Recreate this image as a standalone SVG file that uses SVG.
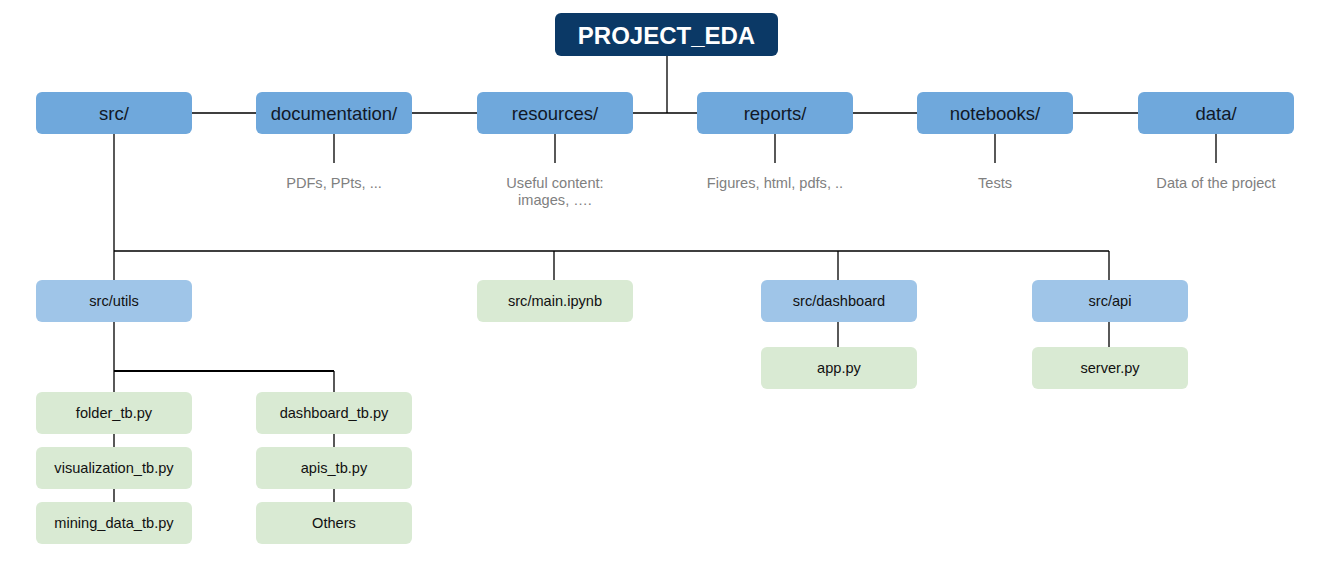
<svg xmlns="http://www.w3.org/2000/svg" width="1330" height="587" viewBox="0 0 1330 587">
<style>
.bg{fill:#ffffff}
.root{fill:#0b3966}
.main{fill:#6fa8dc}
.sub{fill:#9fc5e8}
.leaf{fill:#d9ead3}
.t{font-family:"Liberation Sans",Arial,sans-serif;text-anchor:middle;dominant-baseline:central}
.rt{font-size:24px;font-weight:bold;fill:#ffffff}
.mt{font-size:18.5px;fill:#111827}
.st{font-size:14.6px;fill:#111}
.dt{font-size:14.6px;fill:#808080}
.ln{stroke:#000;stroke-width:1.3;fill:none}
</style>
<rect class="bg" x="0" y="0" width="1330" height="587"/>
<g id="connectors">
<path class="ln" d="M667 56V113M192 113H1138"/>
<path class="ln" d="M334 134V163M555 134V163M775 134V163M995 134V163M1216 134V163"/>
<path class="ln" d="M114 134V280M114 251H1109M554 251V280M838 251V280M1109 251V280"/>
<path class="ln" d="M838 322V347M1109 322V347"/>
<path class="ln" d="M114 322V392M334 371V392"/>
<path class="ln" style="stroke-width:2" d="M114 371H334"/>
<path class="ln" d="M114 434V447M114 489V502M334 434V447M334 489V502"/>
</g>
<g id="root"><rect class="root" x="555" y="13" width="223" height="43" rx="6"/><text class="t rt" x="666.5" y="35">PROJECT_EDA</text></g>
<g id="src"><rect class="main" x="36" y="92" width="156" height="42" rx="6"/><text class="t mt" x="114" y="113">src/</text></g>
<g id="documentation"><rect class="main" x="256" y="92" width="156" height="42" rx="6"/><text class="t mt" x="334" y="113">documentation/</text></g>
<g id="resources"><rect class="main" x="477" y="92" width="156" height="42" rx="6"/><text class="t mt" x="555" y="113">resources/</text></g>
<g id="reports"><rect class="main" x="697" y="92" width="156" height="42" rx="6"/><text class="t mt" x="775" y="113">reports/</text></g>
<g id="notebooks"><rect class="main" x="917" y="92" width="156" height="42" rx="6"/><text class="t mt" x="995" y="113">notebooks/</text></g>
<g id="data"><rect class="main" x="1138" y="92" width="156" height="42" rx="6"/><text class="t mt" x="1216" y="113">data/</text></g>
<g id="desc-documentation"><text class="t dt" x="334" y="183">PDFs, PPts, ...</text></g>
<g id="desc-resources"><text class="t dt" x="555" y="183">Useful content:</text><text class="t dt" x="555" y="200">images, ….</text></g>
<g id="desc-reports"><text class="t dt" x="775" y="183">Figures, html, pdfs, ..</text></g>
<g id="desc-notebooks"><text class="t dt" x="995" y="183">Tests</text></g>
<g id="desc-data"><text class="t dt" x="1216" y="183">Data of the project</text></g>
<g id="src-utils"><rect class="sub" x="36" y="280" width="156" height="42" rx="6"/><text class="t st" x="114" y="301">src/utils</text></g>
<g id="src-main"><rect class="leaf" x="477" y="280" width="156" height="42" rx="6"/><text class="t st" x="555" y="301">src/main.ipynb</text></g>
<g id="src-dashboard"><rect class="sub" x="761" y="280" width="156" height="42" rx="6"/><text class="t st" x="839" y="301">src/dashboard</text></g>
<g id="src-api"><rect class="sub" x="1032" y="280" width="156" height="42" rx="6"/><text class="t st" x="1110" y="301">src/api</text></g>
<g id="app"><rect class="leaf" x="761" y="347" width="156" height="42" rx="6"/><text class="t st" x="839" y="368">app.py</text></g>
<g id="server"><rect class="leaf" x="1032" y="347" width="156" height="42" rx="6"/><text class="t st" x="1110" y="368">server.py</text></g>
<g id="folder-tb"><rect class="leaf" x="36" y="392" width="156" height="42" rx="6"/><text class="t st" x="114" y="413">folder_tb.py</text></g>
<g id="visualization-tb"><rect class="leaf" x="36" y="447" width="156" height="42" rx="6"/><text class="t st" x="114" y="468">visualization_tb.py</text></g>
<g id="mining-data-tb"><rect class="leaf" x="36" y="502" width="156" height="42" rx="6"/><text class="t st" x="114" y="523">mining_data_tb.py</text></g>
<g id="dashboard-tb"><rect class="leaf" x="256" y="392" width="156" height="42" rx="6"/><text class="t st" x="334" y="413">dashboard_tb.py</text></g>
<g id="apis-tb"><rect class="leaf" x="256" y="447" width="156" height="42" rx="6"/><text class="t st" x="334" y="468">apis_tb.py</text></g>
<g id="others"><rect class="leaf" x="256" y="502" width="156" height="42" rx="6"/><text class="t st" x="334" y="523">Others</text></g>
</svg>
